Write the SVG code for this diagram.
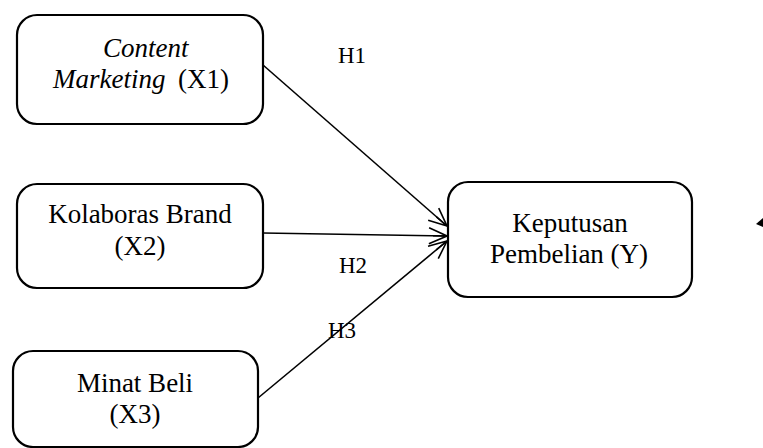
<svg xmlns="http://www.w3.org/2000/svg" width="763" height="448" viewBox="0 0 763 448">
<defs>
<marker id="arr" viewBox="0 0 20 20" refX="19" refY="10" markerWidth="20" markerHeight="20" markerUnits="userSpaceOnUse" orient="auto">
<path d="M1,2 L19,10 L1,18 M5,10 L19,10" fill="none" stroke="#000" stroke-width="1.6"/>
</marker>
<style>
.box{fill:#fff;stroke:#000;stroke-width:2.2}
text{font-family:'Liberation Serif','Times New Roman',serif;fill:#000}
.t{font-size:27px;text-anchor:middle}
.s{font-size:27px}
.l{font-size:23px}
.c{fill:none;stroke:#000;stroke-width:1.6;marker-end:url(#arr)}
</style>
</defs>
<rect width="763" height="448" fill="#fff"/>
<g id="connectors">
<line class="c" x1="263" y1="65" x2="447" y2="226"/>
<line class="c" x1="263" y1="233" x2="447" y2="236"/>
<line class="c" x1="258" y1="398" x2="447" y2="241"/>
<polygon points="756,224 763,218 763,227" fill="#000"/>
</g>
<g id="x1">
<rect class="box" x="17" y="15" width="246" height="109" rx="20"/>
<text class="s" x="103" y="57" font-family="Liberation Serif, serif" font-style="italic">Content</text>
<text class="s" x="53" y="88" font-family="Liberation Serif, serif"><tspan font-style="italic">Marketing</tspan><tspan x="178">(X1)</tspan></text>
</g>
<g id="x2">
<rect class="box" x="17" y="184" width="246" height="104" rx="20"/>
<text class="t" x="140" y="223" font-family="Liberation Serif, serif">Kolaboras Brand</text>
<text class="t" x="140" y="255" font-family="Liberation Serif, serif">(X2)</text>
</g>
<g id="x3">
<rect class="box" x="13" y="351" width="245" height="96" rx="20"/>
<text class="t" x="135" y="392" font-family="Liberation Serif, serif">Minat Beli</text>
<text class="t" x="135" y="423" font-family="Liberation Serif, serif">(X3)</text>
</g>
<g id="y">
<rect class="box" x="448" y="182" width="244" height="115" rx="20"/>
<text class="t" x="570" y="232" font-family="Liberation Serif, serif">Keputusan</text>
<text class="t" x="569" y="263" font-family="Liberation Serif, serif">Pembelian (Y)</text>
</g>
<g id="labels">
<text class="l" x="338" y="63" font-family="Liberation Serif, serif">H1</text>
<text class="l" x="339" y="273" font-family="Liberation Serif, serif">H2</text>
<text class="l" x="328" y="338" font-family="Liberation Serif, serif">H3</text>
</g>
</svg>
